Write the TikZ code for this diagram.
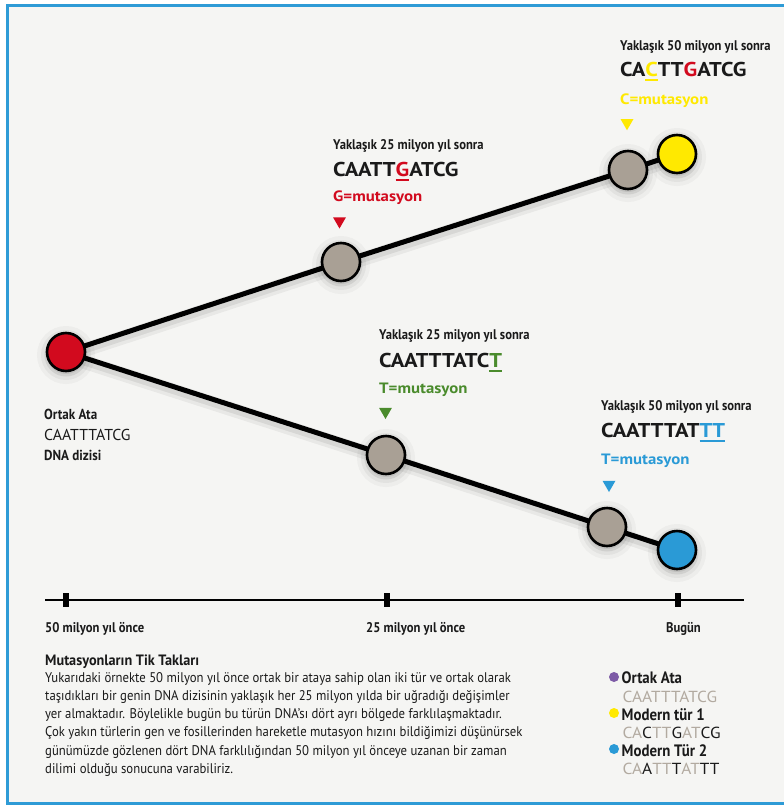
\documentclass[tikz,border=0pt]{standalone}
\usepackage{fontspec}
\setmainfont{PT Sans}
\newfontfamily\cnd[FakeStretch=0.9]{PT Sans}
\newfontfamily\bodyf[FakeStretch=0.91]{PT Sans}
\newfontfamily\titf[FakeStretch=0.95]{PT Sans}
\newfontfamily\wid[FakeStretch=1.12]{PT Sans}
\newfontfamily\wida[FakeStretch=1.08]{PT Sans}
\usetikzlibrary{shapes.geometric}
\definecolor{bgc}{HTML}{F5F5F3}
\definecolor{framec}{HTML}{2E9BD6}
\definecolor{ink}{HTML}{1A1A1A}
\definecolor{mred}{HTML}{D20A1E}
\definecolor{mylw}{HTML}{FFE900}
\definecolor{mgrn}{HTML}{4A8B2C}
\definecolor{mblu}{HTML}{2A9AD6}
\definecolor{ngray}{HTML}{A9A095}
\definecolor{mpur}{HTML}{7D5BA6}
\definecolor{lgray}{HTML}{B2AAA0}
\newsavebox\ulbox
\newcommand\myul[1]{\sbox\ulbox{#1}\rlap{\rule[-4.5pt]{\wd\ulbox}{1.8pt}}\usebox\ulbox}
\pgfdeclarelayer{bgl}
\pgfdeclarelayer{lnl}
\pgfsetlayers{bgl,lnl,main}
\begin{document}
\begin{tikzpicture}[x=1pt,y=-1pt,
  dot/.style={circle, draw=black, line width=2.6pt, minimum size=38pt, inner sep=0pt,
    preaction={draw=black, draw opacity=0.03, line width=20pt, transform canvas={yshift=-3pt}},
    preaction={draw=black, draw opacity=0.045, line width=12pt, transform canvas={yshift=-3pt}},
    preaction={fill=black, fill opacity=0.08, draw=black, draw opacity=0.08, line width=5pt, transform canvas={yshift=-3pt}}},
  lab/.style={anchor=base west, inner sep=0pt, font=\cnd\bfseries\fontsize{14}{16}\selectfont, text=ink},
  seq/.style={anchor=base west, inner sep=0pt, font=\wid\bfseries\fontsize{20}{22}\selectfont, text=ink},
  mut/.style={anchor=base west, inner sep=0pt, font=\wid\bfseries\fontsize{15}{17}\selectfont},
  tri/.style={regular polygon, regular polygon sides=3, shape border rotate=180, minimum size=15pt, inner sep=0pt, draw=none},
  branch/.style={line width=5pt, draw=black, line cap=round,
    preaction={draw=black, draw opacity=0.05, line width=14pt, transform canvas={yshift=-4pt}},
    preaction={draw=black, draw opacity=0.07, line width=9pt, transform canvas={yshift=-3pt}}},
  tick/.style={rectangle, fill=black, minimum width=6pt, minimum height=14pt, inner sep=0pt},
  tlab/.style={inner sep=0pt, anchor=base west, font=\cnd\bfseries\fontsize{14}{16}\selectfont, text=ink},
  body/.style={anchor=base west, inner sep=0pt, font=\bodyf\fontsize{14}{16}\selectfont, text=ink},
  legh/.style={anchor=base west, inner sep=0pt, font=\cnd\bfseries\fontsize{16.5}{18}\selectfont, text=ink},
  legs/.style={anchor=base west, inner sep=0pt, font=\wida\fontsize{16}{18}\selectfont, text=ink},
  ldot/.style={circle, minimum size=10pt, inner sep=0pt},
]
\useasboundingbox (0,0) rectangle (784,806);
\begin{pgfonlayer}{bgl}
\fill[white] (0,0) rectangle (784,806);
\fill[bgc] (7.5,5) rectangle (800,803);
\draw[framec, line width=3pt] (7.5,5) rectangle (800,803);
\end{pgfonlayer}

% nodes of the tree
\node[dot, fill=mred]  (anc) at (66,352) {};
\node[dot, fill=ngray] (u1)  at (341,262) {};
\node[dot, fill=ngray] (u2)  at (628,170) {};
\node[dot, fill=mylw]  (yel) at (677,154) {};
\node[dot, fill=ngray] (l1)  at (386,455) {};
\node[dot, fill=ngray] (l2)  at (607,527) {};
\node[dot, fill=mblu]  (blu) at (677,550) {};

\begin{pgfonlayer}{lnl}
\draw[branch] (anc.center) -- (u1.center) -- (u2.center) -- (yel.center);
\draw[branch] (anc.center) -- (l1.center) -- (l2.center) -- (blu.center);
\end{pgfonlayer}

% top right
\node[lab] (t1) at (620,50.5) {Yaklaşık 50 milyon yıl sonra};
\node[seq] (s1) at (620,76.7) {CA{\color{mylw}\myul{C}}TT{\color{mred}G}ATCG};
\node[mut, text=mylw] (m1) at (620,104) {C=mutasyon};
\node[tri, fill=mylw] (tr1) at (627,122.75) {};

% middle top
\node[lab] (t2) at (333,149) {Yaklaşık 25 milyon yıl sonra};
\node[seq] (s2) at (333,176) {CAATT{\color{mred}\myul{G}}ATCG};
\node[mut, text=mred] (m2) at (333,201.7) {G=mutasyon};
\node[tri, fill=mred] (tr2) at (339.5,221) {};

% middle lower
\node[lab] (t3) at (379,339) {Yaklaşık 25 milyon yıl sonra};
\node[seq] (s3) at (379,367) {CAATTTATC{\color{mgrn}\myul{T}}};
\node[mut, text=mgrn] (m3) at (379,393) {T=mutasyon};
\node[tri, fill=mgrn] (tr3) at (385.5,411.5) {};

% lower right
\node[lab] (t4) at (601,410) {Yaklaşık 50 milyon yıl sonra};
\node[seq] (s4) at (601,437.7) {CAATTTAT{\color{mblu}\myul{T}\myul{T}}};
\node[mut, text=mblu] (m4) at (601,464) {T=mutasyon};
\node[tri, fill=mblu] (tr4) at (609,484.5) {};

% left labels
\node[lab, font=\cnd\bfseries\fontsize{14.5}{16}\selectfont] (a1) at (44,419) {Ortak Ata};
\node[anchor=base west, inner sep=0pt, font=\fontsize{15.8}{17}\selectfont, text=ink] (a2) at (44,440) {CAATTTATCG};
\node[lab, font=\cnd\bfseries\fontsize{14.5}{16}\selectfont] (a3) at (44,460.7) {DNA dizisi};

% timeline
\coordinate (tl0) at (45,600);
\coordinate (tl1) at (744,600);
\draw[line width=2.8pt] (tl0) -- (tl1);
\node[tick] (k1) at (66,600) {};
\node[tick] (k2) at (387,600) {};
\node[tick] (k3) at (678,600) {};
\node[tlab] (kl1) at (45,632) {50 milyon yıl önce};
\node[tlab] (kl2) at (366,632) {25 milyon yıl önce};
\node[tlab] (kl3) at (666,632) {Bugün};

% body text
\node[legh, font=\titf\bfseries\fontsize{15}{17}\selectfont] (bt) at (45,665) {Mutasyonların Tik Takları};
\foreach \t [count=\i] in {
  Yukarıdaki örnekte 50 milyon yıl önce ortak bir ataya sahip olan iki tür ve ortak olarak,
  taşıdıkları bir genin DNA dizisinin yaklaşık her 25 milyon yılda bir uğradığı değişimler,
  yer almaktadır. Böylelikle bugün bu türün DNA’sı dört ayrı bölgede farklılaşmaktadır.,
  Çok yakın türlerin gen ve fosillerinden hareketle mutasyon hızını bildiğimizi düşünürsek,
  günümüzde gözlenen dört DNA farklılığından 50 milyon yıl önceye uzanan bir zaman,
  dilimi olduğu sonucuna varabiliriz.}
  \node[body] (b\i) at (45,{682+(\i-1)*18.3}) {\t};

% legend
\node[ldot, fill=mpur] (d1) at (614,677) {};
\node[legh] (g1) at (621.5,683.3) {Ortak Ata};
\node[legs, text=lgray] (h1) at (622.5,702.3) {CAATTTATCG};
\node[ldot, fill=mylw] (d2) at (614,713) {};
\node[legh] (g2) at (621.5,720) {Modern tür 1};
\node[legs] (h2) at (622.5,738.3) {{\color{lgray}CA}C{\color{lgray}TT}G{\color{lgray}AT}CG};
\node[ldot, fill=mblu] (d3) at (614,749) {};
\node[legh] (g3) at (621.5,756) {Modern Tür 2};
\node[legs] (h3) at (622.5,774) {{\color{lgray}CA}A{\color{lgray}TT}T{\color{lgray}AT}TT};
\end{tikzpicture}
\end{document}
